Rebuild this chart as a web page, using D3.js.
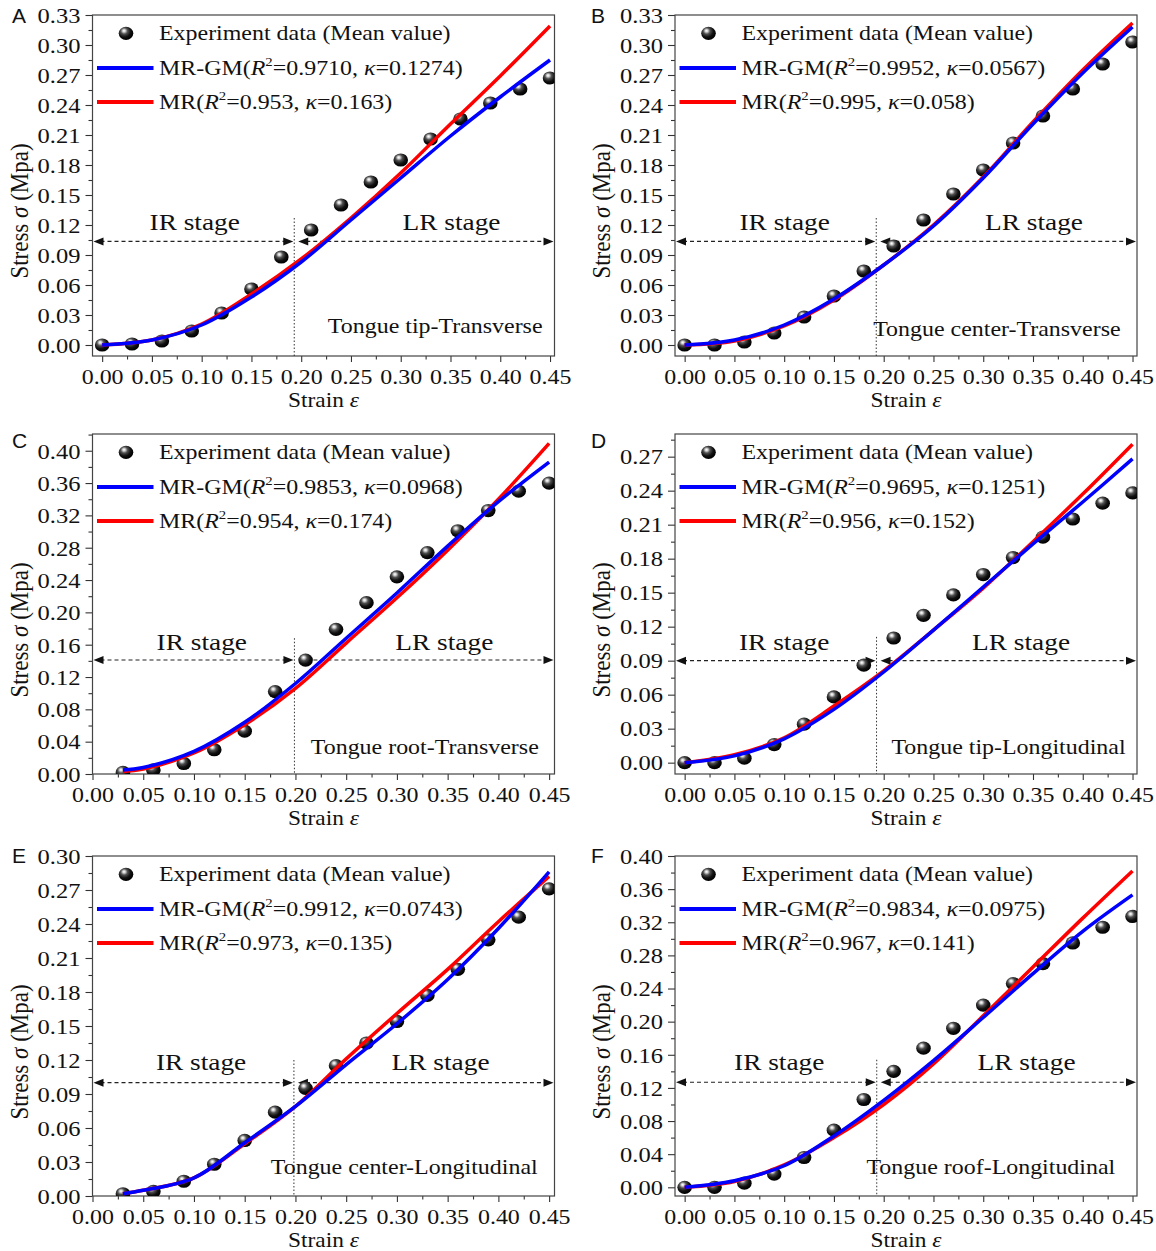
<!DOCTYPE html>
<html>
<head>
<meta charset="utf-8">
<script src="https://cdn.jsdelivr.net/npm/d3@7"></script>
<style>
  body { margin: 0; background: #fff; }
  text { font-family: "Liberation Serif", "Times New Roman", serif; fill: #111; }
  text.letter { font-family: "Liberation Sans", Arial, sans-serif; }
</style>
</head>
<body>
<svg id="chart" width="1156" height="1251"></svg>
<script>
// strain steps of the experiment and of the fitted curves
const strain = [0, 0.03, 0.06, 0.09, 0.12, 0.15, 0.18, 0.21, 0.24, 0.27, 0.30, 0.33, 0.36, 0.39, 0.42, 0.45];
const strainFrom03 = [0.03, 0.06, 0.09, 0.12, 0.15, 0.18, 0.21, 0.24, 0.27, 0.30, 0.33, 0.36, 0.39, 0.42, 0.45];
const fitStrain = [0, 0.05, 0.10, 0.15, 0.20, 0.25, 0.30, 0.35, 0.40, 0.45];
const fitStrainFrom03 = [0.03, 0.05, 0.10, 0.15, 0.20, 0.25, 0.30, 0.35, 0.40, 0.45];

// experiment means (MPa)
const expA = [0, 0.001, 0.004, 0.014, 0.032, 0.056, 0.088, 0.115, 0.140, 0.163, 0.185, 0.206, 0.226, 0.242, 0.256, 0.267];
const expB = [0, 0, 0.003, 0.012, 0.028, 0.049, 0.074, 0.099, 0.125, 0.151, 0.175, 0.202, 0.229, 0.256, 0.281, 0.303];
const expC = [0.002, 0.005, 0.013, 0.030, 0.053, 0.102, 0.141, 0.179, 0.212, 0.244, 0.274, 0.301, 0.326, 0.350, 0.360];
const expD = [0, 0, 0.004, 0.016, 0.034, 0.058, 0.086, 0.110, 0.130, 0.148, 0.166, 0.181, 0.199, 0.215, 0.229, 0.238];
const expE = [0.002, 0.004, 0.013, 0.028, 0.049, 0.074, 0.095, 0.115, 0.135, 0.154, 0.177, 0.200, 0.226, 0.246, 0.271];
const expF = [0, 0, 0.005, 0.016, 0.036, 0.069, 0.106, 0.140, 0.168, 0.192, 0.220, 0.246, 0.270, 0.295, 0.314, 0.327];

// MR-GM fit (blue)
const gmA = [0, 0.005, 0.020, 0.048, 0.083, 0.125, 0.167, 0.209, 0.248, 0.285];
const gmB = [0, 0.005, 0.020, 0.046, 0.080, 0.119, 0.167, 0.221, 0.272, 0.318];
const gmC = [0.005, 0.008, 0.028, 0.064, 0.112, 0.168, 0.224, 0.282, 0.337, 0.386];
const gmD = [0, 0.006, 0.021, 0.047, 0.080, 0.117, 0.155, 0.193, 0.230, 0.268];
const gmE = [0.002, 0.005, 0.016, 0.047, 0.079, 0.116, 0.152, 0.191, 0.236, 0.286];
const gmF = [0, 0.008, 0.026, 0.062, 0.105, 0.153, 0.205, 0.258, 0.309, 0.353];

// MR fit (red)
const mrA = [0, 0.005, 0.021, 0.051, 0.086, 0.127, 0.172, 0.221, 0.269, 0.319];
const mrB = [0, 0.004, 0.019, 0.045, 0.080, 0.120, 0.168, 0.223, 0.275, 0.322];
const mrC = [0.003, 0.006, 0.026, 0.061, 0.106, 0.162, 0.218, 0.277, 0.340, 0.409];
const mrD = [0, 0.007, 0.022, 0.050, 0.081, 0.117, 0.154, 0.195, 0.237, 0.281];
const mrE = [0.002, 0.005, 0.016, 0.046, 0.079, 0.121, 0.161, 0.200, 0.242, 0.282];
const mrF = [0, 0.007, 0.027, 0.060, 0.100, 0.149, 0.207, 0.266, 0.325, 0.382];

const panelIds = ["A", "B", "C", "D", "E", "F"];
const regionLabels = ["Tongue tip-Transverse", "Tongue center-Transverse", "Tongue root-Transverse",
  "Tongue tip-Longitudinal", "Tongue center-Longitudinal", "Tongue roof-Longitudinal"];
const r2GM = ["0.9710", "0.9952", "0.9853", "0.9695", "0.9912", "0.9834"];
const kGM = ["0.1274", "0.0567", "0.0968", "0.1251", "0.0743", "0.0975"];
const r2MR = ["0.953", "0.995", "0.954", "0.956", "0.973", "0.967"];
const kMR = ["0.163", "0.058", "0.174", "0.152", "0.135", "0.141"];

// axes
const yTickStep = [0.03, 0.03, 0.04, 0.03, 0.03, 0.04];
const yTickMax = [0.33, 0.33, 0.40, 0.27, 0.30, 0.40];
const yDomains = [[-0.011, 0.33], [-0.011, 0.33], [0, 0.4207], [-0.010, 0.290], [0, 0.30], [-0.0105, 0.40]];
const xDomains = [[-0.0097, 0.4545], [-0.0097, 0.4545], [0, 0.4553], [-0.0097, 0.4545], [0, 0.4553], [-0.0097, 0.4545]];
const xMajor = [0, 0.05, 0.10, 0.15, 0.20, 0.25, 0.30, 0.35, 0.40, 0.45];
const xMinor = [0.025, 0.075, 0.125, 0.175, 0.225, 0.275, 0.325, 0.375, 0.425];

// IR / LR stage annotations (data units)
const dividerX = [0.193, 0.1925, 0.199, 0.1928, 0.1985, 0.193];
const dividerTop = [0.127, 0.127, 0.168, 0.111, 0.120, 0.154];
const arrowY = [0.1036, 0.1036, 0.141, 0.090, 0.100, 0.1268];
const stageY = [0.115, 0.115, 0.154, 0.0994, 0.111, 0.1417];
const irX = [0.093, 0.1005, 0.1077, 0.100, 0.107, 0.095];
const lrX = [0.351, 0.351, 0.3467, 0.338, 0.343, 0.3435];
const regionX = [0.4425, 0.438, 0.4398, 0.443, 0.4387, 0.4326];
const regionY = [0.0117, 0.009, 0.0243, 0.008, 0.019, 0.0157];

const expStress = [expA, expB, expC, expD, expE, expF];
const expStrain = [strain, strain, strainFrom03, strain, strainFrom03, strain];
const gmStress = [gmA, gmB, gmC, gmD, gmE, gmF];
const mrStress = [mrA, mrB, mrC, mrD, mrE, mrF];
const fitX = [fitStrain, fitStrain, fitStrainFrom03, fitStrain, fitStrainFrom03, fitStrain];

// layout
const colLeft = [92.5, 675];
const colRight = [554.5, 1137];
const rowTop = [15, 434, 856];
const rowBottom = [356, 774, 1196];
const letterY = [23, 448, 863];
const letterX = [12, 591];
const SX = 1.14; // source figure is stretched horizontally
const BLUE = "#0000ff";
const RED = "#ff0000";

const svg = d3.select("#chart");
const defs = svg.append("defs");

const sphere = defs.append("radialGradient")
  .attr("id", "sphere")
  .attr("cx", "40%").attr("cy", "36%").attr("r", "62%")
  .attr("fx", "36%").attr("fy", "30%");
[[0, "#ffffff"], [0.14, "#d8d8d8"], [0.38, "#505050"], [0.7, "#111"], [1, "#000"]].forEach(([o, c]) => {
  sphere.append("stop").attr("offset", o).attr("stop-color", c);
});

function stretched(sel, x, y, size, anchor, str) {
  const t = sel.append("text")
    .attr("transform", `translate(${x},${y}) scale(${SX},1)`)
    .attr("font-size", size)
    .attr("text-anchor", anchor);
  if (str != null) t.text(str);
  return t;
}

function fitLabel(sel, x, y, name, r2, k) {
  const t = stretched(sel, x, y, 21, "start", null);
  t.append("tspan").text(name + "(");
  t.append("tspan").attr("font-style", "italic").text("R");
  t.append("tspan").attr("font-size", 13).attr("dy", -9).text("2");
  t.append("tspan").attr("dy", 9).text("=" + r2 + ", ");
  t.append("tspan").attr("font-style", "italic").text("κ");
  t.append("tspan").text("=" + k + ")");
}

function arrowHead(g, tipX, y, dir) {
  const len = 10, half = 4;
  g.append("path")
    .attr("d", `M${tipX},${y}L${tipX - dir * len},${y - half}L${tipX - dir * len},${y + half}Z`)
    .attr("fill", "#111");
}

panelIds.forEach((id, i) => {
  const col = i % 2, row = Math.floor(i / 2);
  const left = colLeft[col], right = colRight[col];
  const top = rowTop[row], bottom = rowBottom[row];

  const x = d3.scaleLinear().domain(xDomains[i]).range([left, right]);
  const y = d3.scaleLinear().domain(yDomains[i]).range([bottom, top]);
  const g = svg.append("g");

  defs.append("clipPath").attr("id", "clip" + id)
    .append("rect").attr("x", left).attr("y", top)
    .attr("width", right - left).attr("height", bottom - top);

  // Panel letter
  g.append("text").attr("class", "letter")
    .attr("x", letterX[col]).attr("y", letterY[row])
    .attr("font-size", 21).text(id);

  // Axes
  const yMajor = d3.range(0, yTickMax[i] + 1e-9, yTickStep[i]);
  const yMinor = d3.range(yTickStep[i] / 2, yDomains[i][1] + 1e-9, yTickStep[i]);

  const xAxisMinor = g.append("g").attr("transform", `translate(0,${bottom})`)
    .call(d3.axisBottom(x).tickValues(xMinor).tickSize(3.5).tickFormat(""));
  const xAxis = g.append("g").attr("transform", `translate(0,${bottom})`)
    .call(d3.axisBottom(x).tickValues(xMajor).tickSize(6).tickFormat(d3.format(".2f")));
  const yAxisMinor = g.append("g").attr("transform", `translate(${left},0)`)
    .call(d3.axisLeft(y).tickValues(yMinor).tickSize(4).tickFormat(""));
  const yAxis = g.append("g").attr("transform", `translate(${left},0)`)
    .call(d3.axisLeft(y).tickValues(yMajor).tickSize(7).tickFormat(d3.format(".2f")));

  [xAxisMinor, xAxis, yAxisMinor, yAxis].forEach(a => {
    a.attr("color", "#333");
    a.select(".domain").remove();
    a.selectAll(".tick line").attr("stroke-width", 1.1);
  });
  xAxis.selectAll("text")
    .attr("y", null).attr("dy", null)
    .attr("font-size", 21).attr("fill", "#111")
    .attr("transform", `translate(0,27.5) scale(${SX},1)`);
  yAxis.selectAll("text")
    .attr("x", null).attr("dy", "0.34em")
    .attr("font-size", 21.5).attr("fill", "#111")
    .attr("transform", `translate(-12,0) scale(${SX},1)`);

  // Frame
  g.append("rect")
    .attr("x", left).attr("y", top)
    .attr("width", right - left).attr("height", bottom - top)
    .attr("fill", "none").attr("stroke", "#444").attr("stroke-width", 1.2);

  // Axis titles
  const yt = g.append("text")
    .attr("transform", `translate(${left - 65},${top + 196}) rotate(-90) scale(1,1.1)`)
    .attr("font-size", 23).attr("text-anchor", "middle");
  yt.append("tspan").text("Stress ");
  yt.append("tspan").attr("font-style", "italic").text("σ");
  yt.append("tspan").text(" (Mpa)");

  const xt = stretched(g, (left + right) / 2, bottom + 50.5, 20.5, "middle", null);
  xt.append("tspan").text("Strain ");
  xt.append("tspan").attr("font-style", "italic").text("ε");

  // Stage annotations
  const dx = x(dividerX[i]);
  g.append("line")
    .attr("x1", dx).attr("x2", dx)
    .attr("y1", y(dividerTop[i])).attr("y2", bottom)
    .attr("stroke", "#333").attr("stroke-width", 1).attr("stroke-dasharray", "1.5,2");

  const ay = y(arrowY[i]);
  g.append("line")
    .attr("x1", left + 8).attr("x2", dx - 9).attr("y1", ay).attr("y2", ay)
    .attr("stroke", "#222").attr("stroke-width", 1.1).attr("stroke-dasharray", "4,3");
  g.append("line")
    .attr("x1", dx + 12).attr("x2", right - 8).attr("y1", ay).attr("y2", ay)
    .attr("stroke", "#222").attr("stroke-width", 1.1).attr("stroke-dasharray", "4,3");
  arrowHead(g, left + 1, ay, -1);
  arrowHead(g, dx - 1, ay, 1);
  arrowHead(g, dx + 4, ay, -1);
  arrowHead(g, right - 1, ay, 1);

  stretched(g, x(irX[i]), y(stageY[i]), 24, "middle", "IR stage");
  stretched(g, x(lrX[i]), y(stageY[i]), 24, "middle", "LR stage");
  stretched(g, x(regionX[i]), y(regionY[i]), 21, "end", regionLabels[i]);

  // Data and fits
  const plot = g.append("g").attr("clip-path", `url(#clip${id})`);
  plot.selectAll("ellipse")
    .data(d3.zip(expStrain[i], expStress[i]))
    .join("ellipse")
    .attr("cx", d => x(d[0])).attr("cy", d => y(d[1]))
    .attr("rx", 7.3).attr("ry", 6.6)
    .attr("fill", "url(#sphere)");

  const line = d3.line()
    .x(d => x(d[0])).y(d => y(d[1]))
    .curve(d3.curveCatmullRom.alpha(0.5));

  plot.append("path")
    .datum(d3.zip(fitX[i], mrStress[i]))
    .attr("d", line)
    .attr("fill", "none").attr("stroke", RED).attr("stroke-width", 3.5);
  plot.append("path")
    .datum(d3.zip(fitX[i], gmStress[i]))
    .attr("d", line)
    .attr("fill", "none").attr("stroke", BLUE).attr("stroke-width", 3.5);

  // Legend
  const lg = g.append("g");
  lg.append("ellipse")
    .attr("cx", left + 33.5).attr("cy", top + 18.3)
    .attr("rx", 7.3).attr("ry", 6.6).attr("fill", "url(#sphere)");
  stretched(lg, left + 66.5, top + 25.3, 21, "start", "Experiment data (Mean value)");

  lg.append("line")
    .attr("x1", left + 4.5).attr("x2", left + 61)
    .attr("y1", top + 53).attr("y2", top + 53)
    .attr("stroke", BLUE).attr("stroke-width", 4);
  fitLabel(lg, left + 66.5, top + 60, "MR-GM", r2GM[i], kGM[i]);

  lg.append("line")
    .attr("x1", left + 4.5).attr("x2", left + 61)
    .attr("y1", top + 87).attr("y2", top + 87)
    .attr("stroke", RED).attr("stroke-width", 4);
  fitLabel(lg, left + 66.5, top + 94, "MR", r2MR[i], kMR[i]);
});
</script>
</body>
</html>
